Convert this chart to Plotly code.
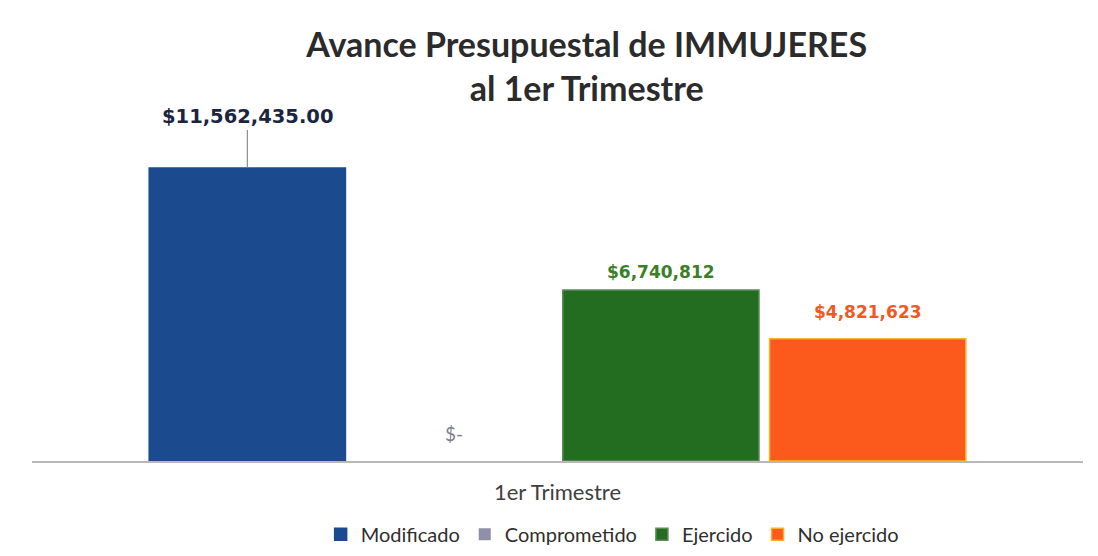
import plotly.graph_objects as go

categories = ["1er Trimestre"]
series_names = ["Modificado", "Comprometido", "Ejercido", "No ejercido"]
series_values = [11562435.00, 0, 6740812, 4821623]
label_texts = ["$11,562,435.00", "$-", "$6,740,812", "$4,821,623"]
bar_colors = ["#1c4a8e", "#8f8fa8", "#226d1f", "#fb5a1c"]
line_colors = ["#1c4a8e", "#8f8fa8", "#5f8a5a", "#f6b02a"]
label_colors = ["#1b2540", "#7d7f8c", "#3b7f27", "#ef5a24"]
label_shifts = [0, 14, 6, 15]

BARGAP = 0.213
GROUPGAP = 0.051

fig = go.Figure()
for name, val, col, lc in zip(series_names, series_values, bar_colors, line_colors):
    fig.add_trace(go.Bar(
        x=categories, y=[val], name=name,
        marker=dict(color=col, line=dict(color=lc, width=1.5 if val else 0)),
        hoverinfo="skip",
    ))

n = len(series_names)
slot = (1 - BARGAP) / n
for i, (val, txt, lcol, sh) in enumerate(zip(series_values, label_texts, label_colors, label_shifts)):
    xpos = (i - (n - 1) / 2) * slot
    if i == 0:
        fig.add_annotation(
            x=xpos, y=val, xref="x", yref="y", text=f"<b>{txt}</b>",
            showarrow=True, arrowhead=0, arrowwidth=1, arrowcolor="#7a7a7a",
            ax=0, ay=-51, font=dict(family="DejaVu Sans, sans-serif", size=19.5, color=lcol),
        )
    elif val == 0:
        fig.add_annotation(
            x=xpos, y=val, xref="x", yref="y", text=txt, showarrow=False,
            yanchor="bottom", yshift=sh,
            font=dict(family="Lato, sans-serif", size=19, color=lcol),
        )
    else:
        fig.add_annotation(
            x=xpos, y=val, xref="x", yref="y", text=f"<b>{txt}</b>", showarrow=False,
            yanchor="bottom", yshift=sh,
            font=dict(family="DejaVu Sans, sans-serif", size=17, color=lcol),
        )

fig.update_layout(
    width=1098, height=556,
    paper_bgcolor="white", plot_bgcolor="white",
    barmode="group", bargap=BARGAP, bargroupgap=GROUPGAP,
    margin=dict(l=24, r=23, t=92, b=103, autoexpand=False),
    title=dict(
        text="<b>Avance Presupuestal de IMMUJERES<br>al 1er Trimestre</b>",
        x=0.527, xanchor="center", y=0.912, yanchor="top",
        font=dict(family="Lato, sans-serif", size=34, color="#2b2b2b"),
    ),
    xaxis=dict(
        showline=True, linecolor="#b8b8b8", linewidth=1.5,
        tickfont=dict(family="Lato, sans-serif", size=22, color="#404040"),
        ticks="", showgrid=False, ticklabelstandoff=11,
    ),
    yaxis=dict(range=[0, 14.24e6], visible=False, showgrid=False),
    legend=dict(
        orientation="h", x=0.552, xanchor="center", y=-0.203, yanchor="middle",
        font=dict(family="Lato, sans-serif", size=20, color="#2f2f2f"),
        itemwidth=30, traceorder="normal",
    ),
    showlegend=True,
)

fig.write_html("out.html")
